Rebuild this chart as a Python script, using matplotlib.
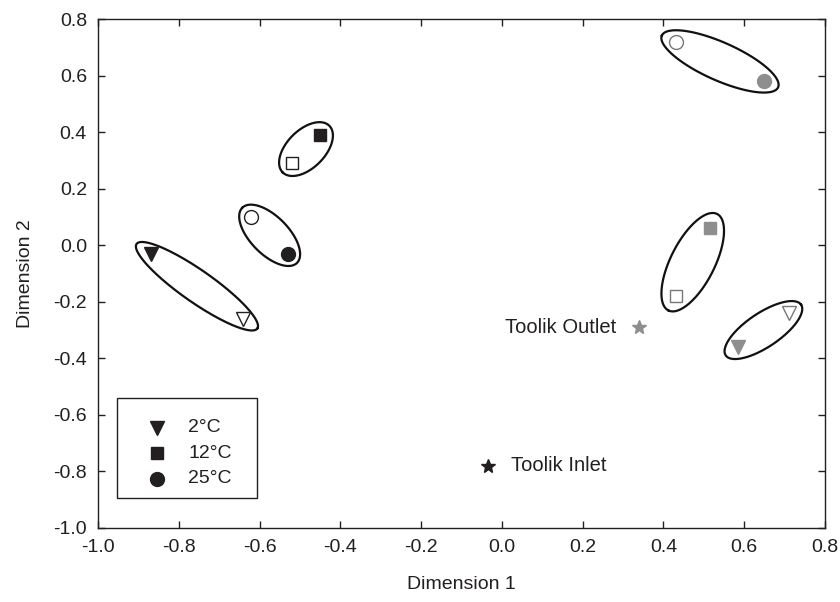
import numpy as np
import matplotlib
matplotlib.use("Agg")
import matplotlib.pyplot as plt
from matplotlib.patches import Rectangle
from matplotlib.ticker import FormatStrFormatter

plt.rcParams['font.family'] = ['Liberation Sans', 'DejaVu Sans']
plt.rcParams['axes.unicode_minus'] = False

# legend entries
temps = ['2°C', '12°C', '25°C']
temp_markers = ['v', 's', 'o']

# Toolik Inlet samples (black), one pair per temperature
inlet_filled_x = [-0.87, -0.45, -0.53]
inlet_filled_y = [-0.03, 0.39, -0.03]
inlet_open_x = [-0.64, -0.52, -0.62]
inlet_open_y = [-0.26, 0.29, 0.10]

# Toolik Outlet samples (grey)
outlet_filled_x = [0.585, 0.515, 0.65]
outlet_filled_y = [-0.36, 0.06, 0.58]
outlet_open_x = [0.71, 0.43, 0.43]
outlet_open_y = [-0.24, -0.18, 0.72]

# source water
site_names = ['Toolik Inlet', 'Toolik Outlet']
site_x = [-0.035, 0.34]
site_y = [-0.78, -0.29]

ticks = [-1.0, -0.8, -0.6, -0.4, -0.2, 0.0, 0.2, 0.4, 0.6, 0.8]

ink = '#231f20'
grey = '#8e8e8e'
msize = {'v': 9.5, 's': 8.5, 'o': 10}
# ellipse padding (px beyond points along pair axis) and half width (px)
inlet_ell = [(17, 16), (13, 19), (13, 19)]
outlet_ell = [(15, 17), (16, 22), (15, 19)]

fig = plt.figure(figsize=(8.4, 6.02), dpi=100)
ax = fig.add_axes([98/840, (602-528)/602, 727/840, 509/602])
ax.set_xlim(-1.0, 0.8)
ax.set_ylim(-1.0, 0.8)
ax.set_xticks(ticks)
ax.set_yticks(ticks)
ax.xaxis.set_major_formatter(FormatStrFormatter('%.1f'))
ax.yaxis.set_major_formatter(FormatStrFormatter('%.1f'))
ax.tick_params(direction='in', length=5, width=1, top=True, right=True,
               labelsize=14, colors=ink, pad=8)
for sp in ax.spines.values():
    sp.set_color(ink)
    sp.set_linewidth(1)
ax.set_xlabel('Dimension 1', fontsize=14, color=ink, labelpad=14)
ax.set_ylabel('Dimension 2', fontsize=14, color=ink, labelpad=14)


def pair_ellipse(x0, y0, x1, y1, pad, half_w):
    # ellipse drawn in pixel space so it stays round-ish on screen
    p0, p1 = ax.transData.transform([(x0, y0), (x1, y1)])
    c = (p0 + p1) / 2
    d = p1 - p0
    L = np.hypot(*d)
    u = d / L
    v = np.array([-u[1], u[0]])
    t = np.linspace(0, 2*np.pi, 200)
    a = L/2 + pad
    pts = c + np.outer(a*np.cos(t), u) + np.outer(half_w*np.sin(t), v)
    pts = ax.transData.inverted().transform(pts)
    ax.plot(pts[:, 0], pts[:, 1], color='#111111', lw=1.6, zorder=2)


for i, m in enumerate(temp_markers):
    ax.plot(inlet_filled_x[i], inlet_filled_y[i], m, ms=msize[m], color=ink, zorder=3)
    ax.plot(inlet_open_x[i], inlet_open_y[i], m, ms=msize[m], mfc='white', mec=ink, mew=1, zorder=3)
    ax.plot(outlet_filled_x[i], outlet_filled_y[i], m, ms=msize[m], color=grey, zorder=3)
    ax.plot(outlet_open_x[i], outlet_open_y[i], m, ms=msize[m], mfc='white', mec='#777777', mew=1, zorder=3)
    pair_ellipse(inlet_filled_x[i], inlet_filled_y[i], inlet_open_x[i], inlet_open_y[i], *inlet_ell[i])
    pair_ellipse(outlet_filled_x[i], outlet_filled_y[i], outlet_open_x[i], outlet_open_y[i], *outlet_ell[i])

# site stars with labels
ax.plot(site_x[0], site_y[0], '*', ms=10, color=ink)
ax.annotate(site_names[0], (site_x[0], site_y[0]), xytext=(17, 0), textcoords='offset points',
            ha='left', va='center', fontsize=14.5, color=ink)
ax.plot(site_x[1], site_y[1], '*', ms=10, color=grey)
ax.annotate(site_names[1], (site_x[1], site_y[1]), xytext=(-16.5, 0), textcoords='offset points',
            ha='right', va='center', fontsize=14.5, color=ink)

# legend box
ax.add_patch(Rectangle((0.0261, 0.0589), 0.1926, 0.1965, transform=ax.transAxes,
                       fill=False, edgecolor=ink, lw=1, zorder=4))
row_y = [0.1965, 0.1473, 0.0963]
for i, m in enumerate(temp_markers):
    ax.plot(0.0812, row_y[i], m, ms=msize[m], color=ink, transform=ax.transAxes, zorder=5)
    ax.text(0.1238, row_y[i], temps[i], transform=ax.transAxes, va='center', ha='left',
            fontsize=14, color=ink, zorder=5)

fig.savefig('out.png', dpi=100)
